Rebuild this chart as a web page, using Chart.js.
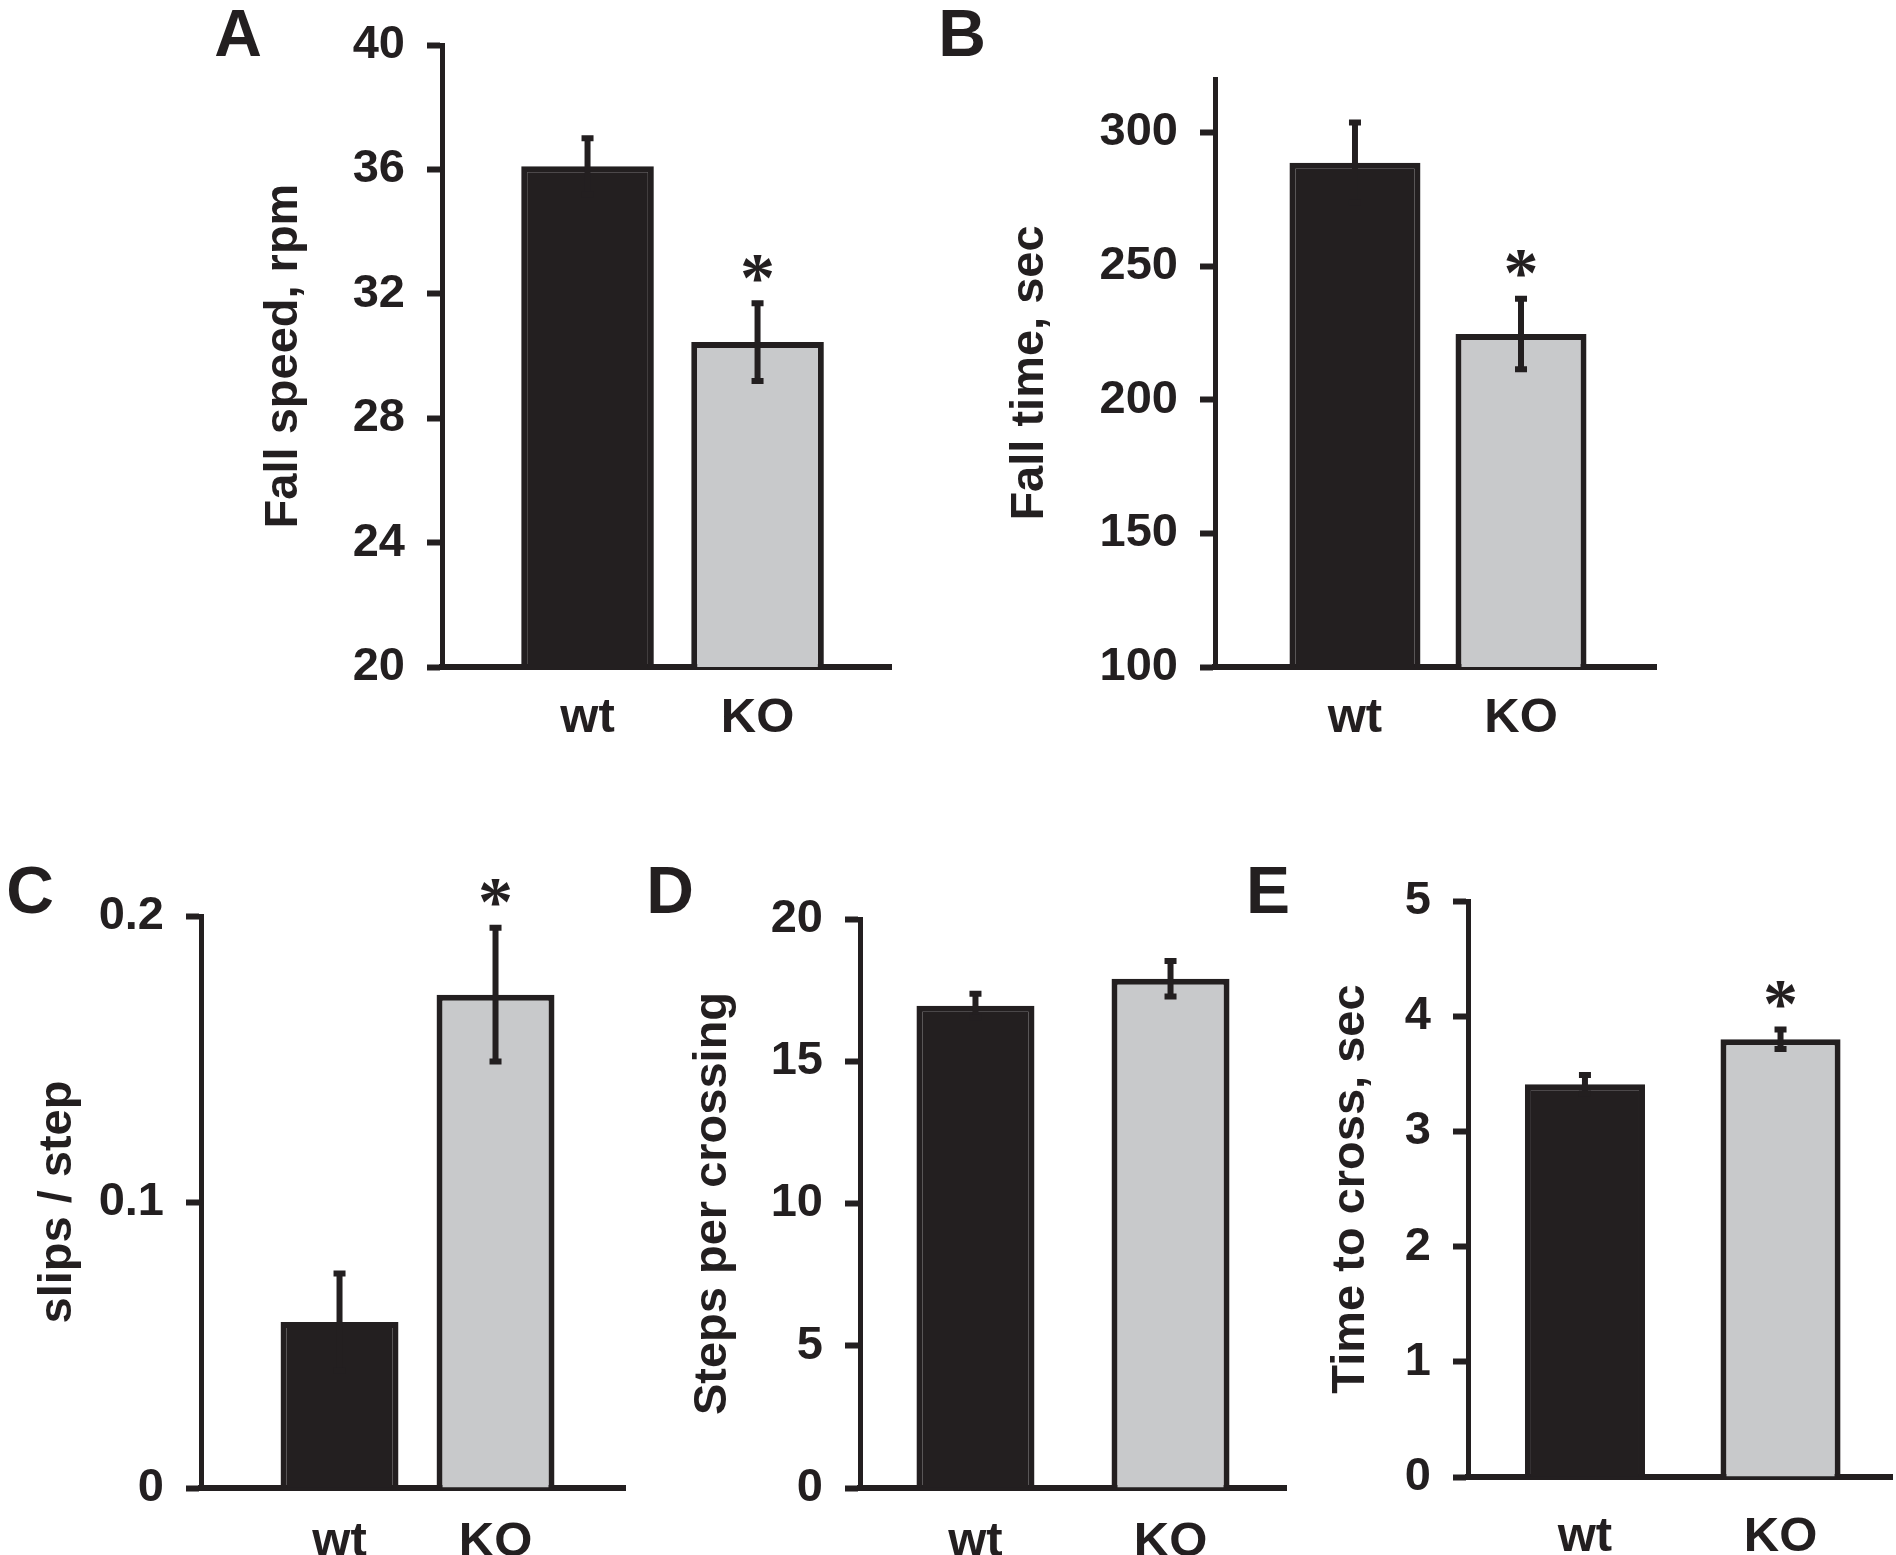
<!DOCTYPE html>
<html><head><meta charset="utf-8">
<script src="https://cdn.jsdelivr.net/npm/chart.js@4.4.1/dist/chart.umd.min.js"></script>
<style>
html,body{margin:0;padding:0;background:#fff;}
#wrap{position:relative;width:1896px;height:1555px;overflow:hidden;background:#fff;}
canvas{position:absolute;}
.lbl{position:absolute;width:120px;text-align:center;font:bold 66px "Liberation Sans",Arial,sans-serif;color:#231f20;line-height:1;}
</style></head><body>
<div id="wrap">
<canvas id="cA"></canvas><canvas id="cB"></canvas><canvas id="cC"></canvas><canvas id="cD"></canvas><canvas id="cE"></canvas>
<div class="lbl" style="left:178px;top:0px">A</div>
<div class="lbl" style="left:902px;top:0px">B</div>
<div class="lbl" style="left:-30px;top:857px">C</div>
<div class="lbl" style="left:610px;top:857px">D</div>
<div class="lbl" style="left:1208px;top:857px">E</div>
</div>
<script>
// ---- data ----
const groups = ['wt', 'KO'];
const groupPos = [1, 2];

const fallSpeed = [36.1, 30.45];
const fallSpeedSem = [0.9, 1.25];
const fallSpeedSig = ['', '*'];

const fallTime = [288.7, 224.6];
const fallTimeSem = [15.0, 13.2];
const fallTimeSig = ['', '*'];

const slipsPerStep = [0.058, 0.1725];
const slipsPerStepSem = [0.017, 0.0234];
const slipsPerStepSig = ['', '*'];

const stepsPerCrossing = [16.95, 17.9];
const stepsPerCrossingSem = [0.42, 0.62];
const stepsPerCrossingSig = ['', ''];

const timeToCross = [3.41, 3.8];
const timeToCrossSem = [0.08, 0.085];
const timeToCrossSig = ['', '*'];

const ticksA = {min: 20, max: 40, step: 4};
const ticksB = {min: 100, max: 320, step: 50};
const ticksC = {min: 0, max: 0.2, step: 0.1};
const ticksD = {min: 0, max: 20, step: 5};
const ticksE = {min: 0, max: 5, step: 1};

// ---- style / layout ----
const INK = '#231f20';
const GREY = '#c8c9cb';
const FONT = '"Liberation Sans", Arial, sans-serif';
const PAD_TOP = 60, PAD_RIGHT = 4, XH = 95;

const errPlugin = {
  id: 'errbars',
  afterDatasetsDraw(chart, args, opts) {
    const meta = chart.getDatasetMeta(0);
    const ys = chart.scales.y;
    const ctx = chart.ctx;
    const ds = chart.data.datasets[0].data;
    meta.data.forEach((bar, i) => {
      const v = ds[i].y, e = opts.sem[i];
      const x = bar.x;
      const yHi = ys.getPixelForValue(v + e);
      const yLo = ys.getPixelForValue(v - e);
      ctx.save();
      ctx.strokeStyle = INK;
      ctx.lineWidth = 6;
      ctx.beginPath(); ctx.moveTo(x, yHi); ctx.lineTo(x, yLo); ctx.stroke();
      ctx.beginPath();
      ctx.moveTo(x - 6, yHi); ctx.lineTo(x + 6, yHi);
      ctx.moveTo(x - 6, yLo); ctx.lineTo(x + 6, yLo);
      ctx.stroke();
      if (opts.sig[i]) {
        ctx.font = 'bold 70px "Liberation Serif", "Times New Roman", serif';
        ctx.fillStyle = INK;
        ctx.textAlign = 'center';
        ctx.textBaseline = 'alphabetic';
        const m = ctx.measureText(opts.sig[i]);
        const cy = yHi - 35;
        const base = cy + (m.actualBoundingBoxAscent - m.actualBoundingBoxDescent) / 2;
        ctx.fillText(opts.sig[i], x, base);
      }
      ctx.restore();
    });
  }
};

function panel(id, L, vals, sem, sig, yt, title) {
  const cv = document.getElementById(id);
  const left = L.titleX - 28;
  const top = L.axisTop - PAD_TOP;
  const w = L.xEnd - left + PAD_RIGHT;
  const h = L.axisBottom - top + XH;
  cv.width = w; cv.height = h;
  cv.style.left = left + 'px'; cv.style.top = top + 'px';
  cv.style.width = w + 'px'; cv.style.height = h + 'px';
  const yW = L.axisX - left;
  new Chart(cv, {
    type: 'bar',
    data: {
      datasets: [{
        data: groupPos.map((p, i) => ({x: p, y: vals[i]})),
        backgroundColor: [INK, GREY],
        borderColor: INK,
        borderWidth: 6,
        borderSkipped: 'bottom',
        barPercentage: L.barFrac,
        categoryPercentage: 1
      }]
    },
    options: {
      responsive: false,
      devicePixelRatio: 1,
      animation: false,
      events: [],
      layout: {padding: {top: PAD_TOP, right: PAD_RIGHT, left: 0, bottom: 0}},
      plugins: {legend: {display: false}, tooltip: {enabled: false}, errbars: {sem: sem, sig: sig}},
      scales: {
        x: {
          type: 'linear', position: 'bottom', min: L.xMin, max: L.xMax, z: 1,
          offset: false, bounds: 'data',
          afterBuildTicks: s => { s.ticks = groupPos.map(v => ({value: v})); },
          afterFit: s => { s.height = XH; },
          grid: {display: true, offset: false, drawOnChartArea: false, drawTicks: false, color: INK},
          border: {display: true, color: INK, width: 6},
          ticks: {
            padding: L.xPad, color: INK, font: {family: FONT, size: 49, weight: 'bold'},
            callback: v => { const k = groupPos.indexOf(v); return k >= 0 ? groups[k] : ''; },
            maxRotation: 0, autoSkip: false
          }
        },
        y: {
          type: 'linear', position: 'left', min: yt.min, max: yt.max, z: 1,
          afterFit: s => { s.width = yW; },
          grid: {display: true, drawOnChartArea: false, drawTicks: true, tickLength: 15, tickWidth: 6, tickColor: INK, color: INK},
          border: {display: true, color: INK, width: 5},
          title: {display: true, text: title, color: INK, padding: {top: 0, bottom: 0}, font: {family: FONT, size: 47, weight: 'bold', lineHeight: 1.2}},
          ticks: {
            stepSize: yt.step, includeBounds: false, padding: 22, color: INK,
            font: {family: FONT, size: 47, weight: 'bold'},
            callback: v => String(Math.round(v * 1000) / 1000)
          }
        }
      }
    },
    plugins: [errPlugin]
  });
}

panel('cA', {titleX: 284, axisX: 442, axisTop: 45, axisBottom: 667, xEnd: 891, xMin: 0.144, xMax: 2.785, barFrac: 0.78, xPad: 22},
  fallSpeed, fallSpeedSem, fallSpeedSig, ticksA, 'Fall speed, rpm');
panel('cB', {titleX: 1030, axisX: 1215, axisTop: 79, axisBottom: 667, xEnd: 1656, xMin: 0.157, xMax: 2.813, barFrac: 0.789, xPad: 22},
  fallTime, fallTimeSem, fallTimeSig, ticksB, 'Fall time, sec');
panel('cC', {titleX: 58, axisX: 201, axisTop: 916, axisBottom: 1488, xEnd: 625, xMin: 0.112, xMax: 2.83, barFrac: 0.756, xPad: 25},
  slipsPerStep, slipsPerStepSem, slipsPerStepSig, ticksC, 'slips / step');
panel('cD', {titleX: 713, axisX: 860, axisTop: 919, axisBottom: 1488, xEnd: 1286, xMin: 0.408, xMax: 2.592, barFrac: 0.605, xPad: 25},
  stepsPerCrossing, stepsPerCrossingSem, stepsPerCrossingSig, ticksD, 'Steps per crossing');
panel('cE', {titleX: 1351, axisX: 1468, axisTop: 901, axisBottom: 1477, xEnd: 1892, xMin: 0.402, xMax: 2.57, barFrac: 0.614, xPad: 31},
  timeToCross, timeToCrossSem, timeToCrossSig, ticksE, 'Time to cross, sec');
</script>
</body></html>
